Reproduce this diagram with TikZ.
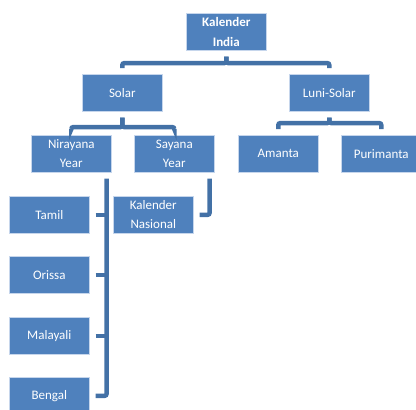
\documentclass[tikz,border=0pt]{standalone}
\usepackage{fontspec}
\setmainfont{Carlito}
\usetikzlibrary{calc}
\definecolor{boxblue}{HTML}{4F81BD}
\definecolor{boxedge}{HTML}{C6D6EC}
\definecolor{connblue}{HTML}{4371A6}
\tikzset{
  box/.style={draw=boxedge, line width=0.6pt, fill=boxblue, text=white, anchor=north west,
    minimum width=80pt, minimum height=37pt, inner sep=1pt, align=center,
    font=\fontsize{13}{19}\selectfont},
  conn/.style={draw=connblue, line width=4.5pt, rounded corners=2pt}
}
\begin{document}
\begin{tikzpicture}[x=1pt,y=-1pt]
\useasboundingbox (0,0) rectangle (416,410);
\clip (0,0) rectangle (416,410);
\node[box, font=\fontsize{13}{20}\selectfont\bfseries] (ki) at (186,13) {Kalender\\India};
\node[box] (solar) at (82,74) {Solar};
\node[box] (luni) at (289,74) {Luni-Solar};
\node[box] (nir) at (31,135) {Nirayana\\Year};
\node[box] (say) at (134,135) {Sayana\\Year};
\node[box] (amanta) at (238,135) {Amanta};
\node[box] (puri) at (341,135) {Purimanta};
\node[box] (tamil) at (9,196) {Tamil};
\node[box] (kn) at (113,196) {Kalender\\Nasional};
\node[box] (orissa) at (9,256) {Orissa};
\node[box] (malayali) at (9,317) {Malayali};
\node[box] (bengal) at (9,377) {Bengal};
% brackets
\draw[conn, shorten >=6pt, shorten <=6pt] (ki.south) -- ++(0,12.5) -| (solar.north);
\draw[conn, shorten >=6pt, shorten <=6pt] (ki.south) -- ++(0,12.5) -| (luni.north);
\draw[conn, shorten >=6pt, shorten <=6pt] (solar.south) -- ++(0,15.5) -| (nir.north);
\draw[conn, shorten >=6pt, shorten <=6pt] (solar.south) -- ++(0,15.5) -| (say.north);
\draw[conn, shorten >=6pt, shorten <=6pt] (luni.south) -- ++(0,11.5) -| (amanta.north);
\draw[conn, shorten >=6pt, shorten <=6pt] (luni.south) -- ++(0,11.5) -| (puri.north);
% Nirayana children
\coordinate (nirv) at ($(nir.south east)+(-5,6)$);
\draw[conn] (nirv) |- ($(bengal.east)+(6,0)$);
\draw[conn, shorten <=6pt] (tamil.east) -- (tamil.east -| nirv);
\draw[conn, shorten <=6pt] (orissa.east) -- (orissa.east -| nirv);
\draw[conn, shorten <=6pt] (malayali.east) -- (malayali.east -| nirv);
% Sayana child
\coordinate (sayv) at ($(say.south east)+(-5,6)$);
\draw[conn, shorten >=6pt] (sayv) |- (kn.east);
\end{tikzpicture}
\end{document}
